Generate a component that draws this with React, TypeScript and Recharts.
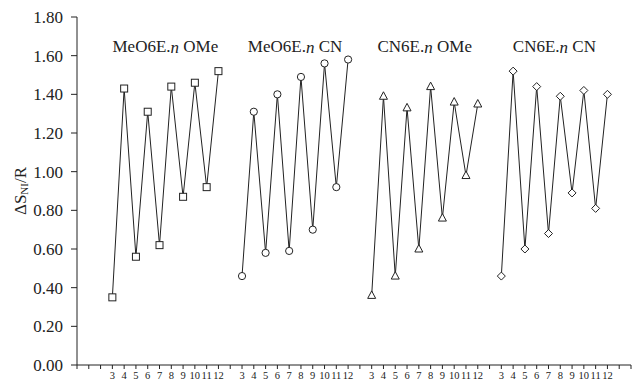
import React from "react";
import {
  LineChart,
  Line,
  XAxis,
  YAxis,
  ReferenceDot,
} from "recharts";

// spacer chain length n (each series uses the same 3..12 set)
const nValues = [3, 4, 5, 6, 7, 8, 9, 10, 11, 12];

const meoOme = [0.35, 1.43, 0.56, 1.31, 0.62, 1.44, 0.87, 1.46, 0.92, 1.52];
const meoCn = [0.46, 1.31, 0.58, 1.4, 0.59, 1.49, 0.7, 1.56, 0.92, 1.58];
const cnOme = [0.36, 1.39, 0.46, 1.33, 0.6, 1.44, 0.76, 1.36, 0.98, 1.35];
const cnCn = [0.46, 1.52, 0.6, 1.44, 0.68, 1.39, 0.89, 1.42, 0.81, 1.4];

const groupNames = ["MeO6E.n OMe", "MeO6E.n CN", "CN6E.n OMe", "CN6E.n CN"];
const groupShapes = ["square", "circle", "triangle", "diamond"];
const yTicks = [0, 0.2, 0.4, 0.6, 0.8, 1.0, 1.2, 1.4, 1.6, 1.8];

const FONT = "'Liberation Serif', 'Times New Roman', serif";
const INK = "#222";

// each group takes 11 slots on the x axis (10 values + one empty)
const series = [meoOme, meoCn, cnOme, cnCn];
const data: Record<string, number>[] = [];
const tickLabels: Record<number, string> = {};
series.forEach((vals, g) => {
  nValues.forEach((n, i) => {
    const x = n + g * 11;
    tickLabels[x] = String(n);
    data.push({ x, ["s" + g]: vals[i] });
  });
});
const xTicks = Array.from({ length: 48 }, (_, i) => i);

const Marker = ({ cx, cy, shape }: { cx: number; cy: number; shape: string }) => {
  const common = { fill: "#fff", stroke: INK, strokeWidth: 1 };
  if (cx == null || cy == null) return null;
  switch (shape) {
    case "square":
      return <rect x={cx - 3.5} y={cy - 3.5} width={7} height={7} {...common} />;
    case "circle":
      return <circle cx={cx} cy={cy} r={3.6} {...common} />;
    case "triangle":
      return (
        <polygon
          points={`${cx},${cy - 4.5} ${cx + 4},${cy + 3} ${cx - 4},${cy + 3}`}
          {...common}
        />
      );
    default:
      return (
        <polygon
          points={`${cx},${cy - 4} ${cx + 4},${cy} ${cx},${cy + 4} ${cx - 4},${cy}`}
          {...common}
        />
      );
  }
};

const GroupTitle = ({ viewBox, name }: any) => {
  const [head, tail] = name.split(".n");
  return (
    <text
      x={viewBox.x}
      y={viewBox.y}
      textAnchor="middle"
      dominantBaseline="central"
      fontFamily={FONT}
      fontSize={17}
      fill={INK}
    >
      {head}.<tspan fontStyle="italic">n</tspan>
      {tail}
    </text>
  );
};

const YTitle = ({ viewBox }: any) => {
  const x = viewBox.x + 20;
  const y = viewBox.y + viewBox.height / 2;
  return (
    <text
      x={x}
      y={y}
      transform={`rotate(-90, ${x}, ${y})`}
      textAnchor="middle"
      dominantBaseline="central"
      fontFamily={FONT}
      fontSize={17}
      fill={INK}
    >
      ΔS
      <tspan fontSize={11} dy={4}>
        NI
      </tspan>
      <tspan dy={-4}>/R</tspan>
    </text>
  );
};

export default function App() {
  return (
    <div style={{ position: "absolute", left: 0, top: 0 }}>
      <LineChart
        width={632}
        height={384}
        data={data}
        margin={{ top: 17, right: 1, bottom: 0, left: 0 }}
        style={{ fontFamily: FONT }}
      >
        <XAxis
          dataKey="x"
          type="number"
          domain={[0, 47]}
          ticks={xTicks}
          interval={0}
          tickFormatter={(v: number) => tickLabels[v] ?? ""}
          tickSize={4}
          tickMargin={3}
          height={19}
          stroke={INK}
          tick={{ fontSize: 10.5, fill: INK, fontFamily: FONT }}
          allowDecimals={false}
        />
        <YAxis
          type="number"
          domain={[0, 1.8]}
          ticks={yTicks}
          interval={0}
          tickFormatter={(v: number) => v.toFixed(2)}
          width={77}
          tickSize={6}
          tickMargin={8}
          stroke={INK}
          tick={{ fontSize: 17, fill: INK, fontFamily: FONT }}
          label={{ content: (p: any) => <YTitle viewBox={p.viewBox} /> }}
        />
        {series.map((_, g) => (
          <Line
            key={g}
            dataKey={"s" + g}
            stroke={INK}
            strokeWidth={1}
            isAnimationActive={false}
            connectNulls={false}
            dot={(p: any) => (
              <Marker key={p.key ?? `${g}-${p.index}`} cx={p.cx} cy={p.cy} shape={groupShapes[g]} />
            )}
            activeDot={false}
          />
        ))}
        {groupNames.map((name, g) => (
          <ReferenceDot
            key={name}
            x={7.5 + g * 11}
            y={1.645}
            r={0}
            stroke="none"
            fill="none"
            label={{ content: (p: any) => <GroupTitle viewBox={p.viewBox} name={name} /> }}
          />
        ))}
      </LineChart>
    </div>
  );
}
